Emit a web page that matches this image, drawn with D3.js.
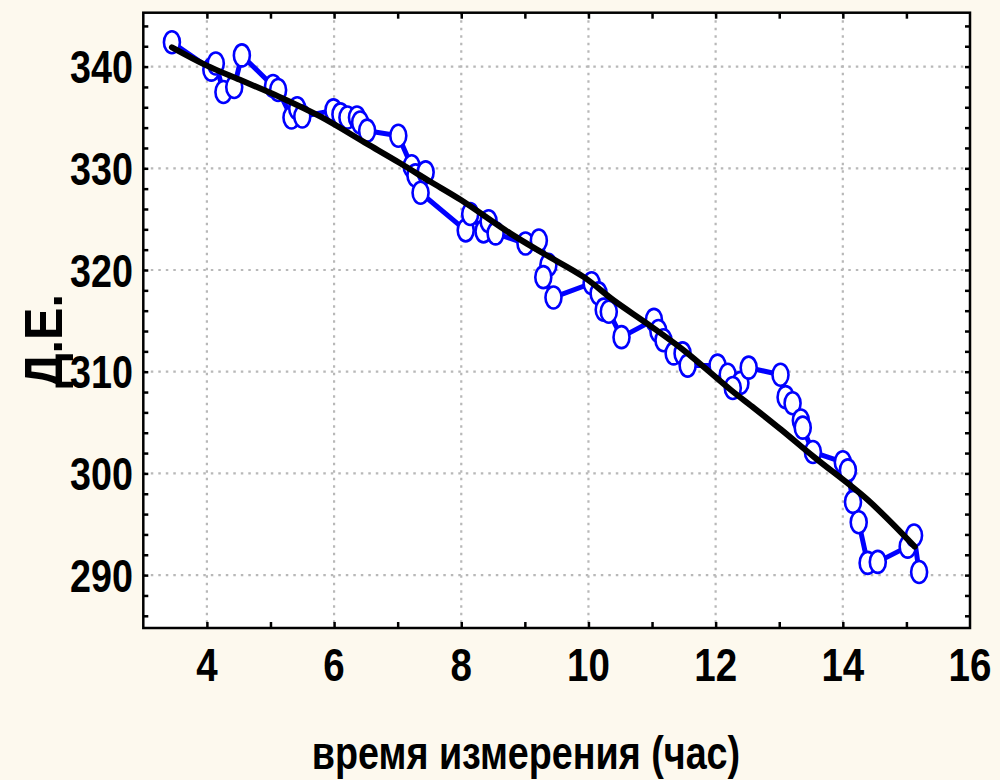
<!DOCTYPE html>
<html><head><meta charset="utf-8">
<script src="https://cdn.jsdelivr.net/npm/d3@7"></script>
<style>
html,body{margin:0;padding:0;background:#fdf9ee;}
svg{display:block;}
.lbl{font-family:"Liberation Sans",Arial,sans-serif;font-weight:bold;fill:#000;}
</style></head>
<body>
<script>
// measurement time (hours)
const timeH = [3.45,4.07,4.14,4.26,4.43,4.55,5.04,5.12,5.33,5.42,5.50,5.99,6.10,6.21,6.36,6.41,6.52,7.01,7.22,7.28,7.44,7.36,
  8.07,8.14,8.35,8.43,8.54,9.01,9.22,9.37,9.29,9.45,10.05,10.16,10.24,10.32,10.52,11.03,11.10,11.18,11.34,11.48,11.56,
  12.03,12.19,12.39,12.27,12.52,13.02,13.10,13.21,13.34,13.37,13.53,14.00,14.08,14.16,14.25,14.39,14.55,15.02,15.12,15.20];
// measured values (Д.Е.)
const valueDE = [342.4,339.7,340.3,337.5,338.0,341.1,338.1,337.7,335.0,335.9,335.1,335.7,335.3,335.0,335.0,334.5,333.7,333.2,330.2,329.3,329.6,327.6,
  323.9,325.5,323.8,324.8,323.6,322.6,322.9,320.5,319.3,317.3,318.7,317.7,316.1,315.9,313.4,315.1,314.0,313.1,311.8,311.8,310.6,
  310.6,309.7,308.9,308.4,310.4,309.7,307.5,306.9,305.2,304.5,302.1,301.1,300.3,297.2,295.2,291.2,291.3,292.8,293.9,290.3];
// fitted curve
const fitX = [3.45,4.00,4.52,5.15,5.78,6.52,7.04,7.51,7.99,8.77,9.30,9.93,10.40,10.93,11.50,12.24,12.61,13.03,13.55,14.39,15.13];
const fitY = [341.9,340.1,338.7,337.0,335.1,332.4,330.5,328.7,326.9,323.6,321.6,319.3,317.0,314.7,312.1,308.2,306.4,304.3,301.6,297.4,292.8];
const xTickLabels = [4,6,8,10,12,14,16];
const yTickLabels = [290,300,310,320,330,340];
const xTitle = "время измерения (час)";
const yTitle = "Д.Е.";

const W = 1000, H = 780;
const L = 143.3, R = 970, T = 12.7, B = 628;
const NARROW = 0.82;
const svg = d3.select("body").append("svg").attr("width", W).attr("height", H);
svg.append("rect").attr("width", W).attr("height", H).attr("fill", "#fdf9ee");

const x = d3.scaleLinear().domain([3, 16]).range([L, R]);
const y = d3.scaleLinear().domain([284.8, 345.3]).range([B, T]);

svg.append("rect").attr("x", L).attr("y", T).attr("width", R - L).attr("height", B - T).attr("fill", "#fff");

// grid
const grid = svg.append("g").attr("stroke", "#b8b8b8").attr("stroke-width", 2.2).attr("stroke-dasharray", "2.5,5");
grid.selectAll("line.v").data(xTickLabels.filter(d => d < 16)).enter().append("line")
  .attr("x1", d => x(d)).attr("x2", d => x(d)).attr("y1", T).attr("y2", B);
grid.selectAll("line.h").data(yTickLabels).enter().append("line")
  .attr("y1", d => y(d)).attr("y2", d => y(d)).attr("x1", L).attr("x2", R);

// axes (inward ticks)
const xMinor = d3.range(4, 16, 1);
const yMinor = d3.range(286, 346, 2);
svg.append("g").attr("transform", `translate(0,${B})`)
  .call(d3.axisTop(x).tickValues(xMinor).tickSize(6).tickFormat(""))
  .call(g => g.select(".domain").remove())
  .selectAll("line").attr("stroke", "#000").attr("stroke-width", 2.5);
svg.append("g").attr("transform", `translate(0,${T})`)
  .call(d3.axisBottom(x).tickValues(xMinor).tickSize(6).tickFormat(""))
  .call(g => g.select(".domain").remove())
  .selectAll("line").attr("stroke", "#000").attr("stroke-width", 2.5);
svg.append("g").attr("transform", `translate(${L},0)`)
  .call(d3.axisRight(y).tickValues(yMinor).tickSize(5).tickFormat(""))
  .call(g => g.select(".domain").remove())
  .selectAll("line").attr("stroke", "#000").attr("stroke-width", 2.5);
svg.append("g").attr("transform", `translate(${R},0)`)
  .call(d3.axisLeft(y).tickValues(yMinor).tickSize(5).tickFormat(""))
  .call(g => g.select(".domain").remove())
  .selectAll("line").attr("stroke", "#000").attr("stroke-width", 2.5);

// tick labels (condensed via horizontal scale)
svg.append("g").selectAll("text").data(xTickLabels).enter().append("text")
  .attr("class", "lbl").attr("transform", d => `translate(${x(d)},681) scale(${NARROW},1)`)
  .attr("text-anchor", "middle").attr("font-size", 47).text(d => d);
svg.append("g").selectAll("text").data(yTickLabels).enter().append("text")
  .attr("class", "lbl").attr("transform", d => `translate(133,${y(d)}) scale(${NARROW},1)`).attr("dy", "0.36em")
  .attr("text-anchor", "end").attr("font-size", 46).text(d => d);

// titles
svg.append("text").attr("class", "lbl").attr("transform", `translate(526,769) scale(0.82,1)`)
  .attr("text-anchor", "middle").attr("font-size", 46).text(xTitle);
svg.append("text").attr("class", "lbl")
  .attr("transform", "translate(62,341) rotate(-90) scale(0.9,1)")
  .attr("text-anchor", "middle").attr("font-size", 54).text(yTitle);

// data line
const pts = timeH.map((t, i) => [t, valueDE[i]]);
svg.append("path").datum(pts)
  .attr("d", d3.line().x(d => x(d[0])).y(d => y(d[1])))
  .attr("fill", "none").attr("stroke", "#0000ff").attr("stroke-width", 5).attr("stroke-linejoin", "round");
svg.append("g").selectAll("ellipse").data(pts).enter().append("ellipse")
  .attr("cx", d => x(d[0])).attr("cy", d => y(d[1])).attr("rx", 8).attr("ry", 11)
  .attr("fill", "#fff").attr("stroke", "#0000ff").attr("stroke-width", 2.6);

// fit line
const fit = fitX.map((t, i) => [t, fitY[i]]);
svg.append("path").datum(fit)
  .attr("d", d3.line().curve(d3.curveCatmullRom).x(d => x(d[0])).y(d => y(d[1])))
  .attr("fill", "none").attr("stroke", "#000").attr("stroke-width", 6).attr("stroke-linecap", "round");

// frame
svg.append("rect").attr("x", L).attr("y", T).attr("width", R - L).attr("height", B - T)
  .attr("fill", "none").attr("stroke", "#000").attr("stroke-width", 2.5);
</script>
</body></html>
